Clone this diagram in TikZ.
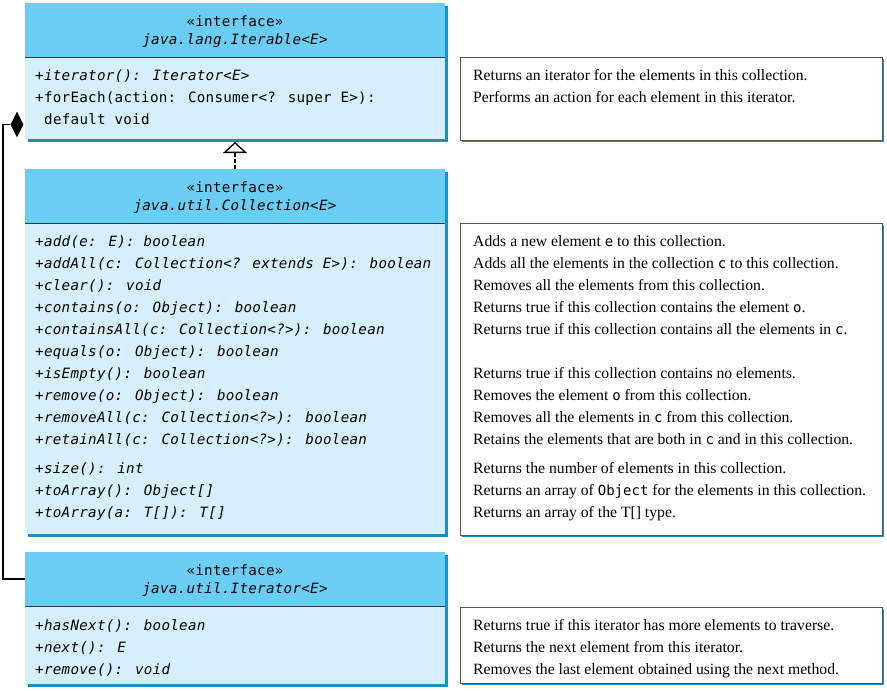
\documentclass[tikz,border=0pt]{standalone}
\usepackage{fontspec}
\setmainfont{Liberation Serif}
\newfontfamily\codefont{DejaVu Sans Mono}[LetterSpace=2.0]
\newfontfamily\inlinecodefont{DejaVu Sans Mono}
\usetikzlibrary{arrows.meta,shapes.geometric}
\definecolor{headblue}{HTML}{6ACDF3}
\definecolor{bodyblue}{HTML}{D5EFFB}
\definecolor{shadowblue}{HTML}{1B8FBF}
\definecolor{divider}{HTML}{2A3A40}
\definecolor{descborder}{HTML}{555555}
\newcommand\incode[1]{{\inlinecodefont\fontsize{14}{16}\selectfont #1}}
\begin{document}
\begin{tikzpicture}[x=1pt,y=-1pt,
  head/.style={fill=headblue, anchor=north west, minimum width=420pt, minimum height=54pt, inner sep=0pt, outer sep=0pt},
  body/.style={fill=bodyblue, anchor=north west, minimum width=420pt, inner sep=0pt, outer sep=0pt},
  desc/.style={draw=descborder, line width=0.8pt, fill=white, anchor=north west, minimum width=422pt, inner sep=0pt},
  shadowfill/.style={fill=shadowblue},
  divline/.style={draw=divider, line width=1pt},
  code/.style={font=\codefont\fontsize{14.2}{16}\selectfont\itshape, anchor=base west, inner sep=0pt},
  codeup/.style={font=\codefont\fontsize{14.2}{16}\selectfont, anchor=base west, inner sep=0pt},
  stereo/.style={font=\codefont\fontsize{14.2}{16}\selectfont, anchor=base, inner sep=0pt},
  cname/.style={font=\codefont\fontsize{14.2}{16}\selectfont\itshape, anchor=base, inner sep=0pt},
  dtext/.style={font=\fontsize{15.7}{18}\selectfont, anchor=base west, inner sep=0pt},
  conn/.style={draw=black, line width=1.1pt},
  realize/.style={draw=black, line width=1.3pt, dash pattern=on 4pt off 2pt, -{Triangle[open,fill=white,length=11pt,width=24pt,line width=1.3pt]}},
  ]
\useasboundingbox (0,0) rectangle (887,691);

% shadows
\fill[shadowfill] (28,6) rectangle (448,142);
\fill[shadowfill] (28,172) rectangle (448,537);
\fill[shadowfill] (28,555) rectangle (448,687);
\fill[shadowfill] (462,59) rectangle (884,142);
\fill[shadowfill] (462,225) rectangle (884,537);
\fill[shadowfill] (462,609) rectangle (884,685);

% Iterable
\node[head] (itbH) at (25,3) {};
\node[body, minimum height=82pt] (itbB) at (25,57) {};
\draw[divline] (itbH.south west) -- (itbH.south east);
\node[stereo] (itbS) at (235,26) {«interface»};
\node[cname] (itbN) at (235,44) {java.lang.Iterable<E>};
\node[code] (itbM1) at (35,80) {+iterator(): Iterator<E>};
\node[codeup] (itbM2) at (35,102) {+forEach(action: Consumer<? super E>):};
\node[codeup] (itbM3) at (44,124) {default void};
\node[desc, minimum height=83pt] (itbD) at (460,57) {};
\node[dtext] (itbD1) at (473,80) {Returns an iterator for the elements in this collection.};
\node[dtext] (itbD2) at (473,102) {Performs an action for each element in this iterator.};

% Collection
\node[head] (colH) at (25,169) {};
\node[body, minimum height=311pt] (colB) at (25,223) {};
\draw[divline] (colH.south west) -- (colH.south east);
\node[stereo] (colS) at (235,192) {«interface»};
\node[cname] (colN) at (235,210) {java.util.Collection<E>};
\foreach \yy/\txt [count=\i] in {
  246/{+add(e: E): boolean},
  268/{+addAll(c: Collection<? extends E>): boolean},
  290/{+clear(): void},
  312/{+contains(o: Object): boolean},
  334/{+containsAll(c: Collection<?>): boolean},
  356/{+equals(o: Object): boolean},
  378/{+isEmpty(): boolean},
  400/{+remove(o: Object): boolean},
  422/{+removeAll(c: Collection<?>): boolean},
  444/{+retainAll(c: Collection<?>): boolean},
  473/{+size(): int},
  495/{+toArray(): Object[]},
  517/{+toArray(a: T[]): T[]}}
  \node[code] (colM\i) at (35,\yy) {\txt};
\node[desc, minimum height=312pt] (colD) at (460,223) {};
\foreach \yy/\txt [count=\i] in {
  246/{Adds a new element \incode{e} to this collection.},
  268/{Adds all the elements in the collection \incode{c} to this collection.},
  290/{Removes all the elements from this collection.},
  312/{Returns true if this collection contains the element \incode{o}.},
  334/{Returns true if this collection contains all the elements in \incode{c}.},
  378/{Returns true if this collection contains no elements.},
  400/{Removes the element \incode{o} from this collection.},
  422/{Removes all the elements in \incode{c} from this collection.},
  444/{Retains the elements that are both in \incode{c} and in this collection.},
  473/{Returns the number of elements in this collection.},
  495/{Returns an array of \incode{Object} for the elements in this collection.},
  517/{Returns an array of the T[] type.}}
  \node[dtext] (colT\i) at (473,\yy) {\txt};

% Iterator
\node[head] (iteH) at (25,552) {};
\node[body, minimum height=78pt] (iteB) at (25,606) {};
\draw[divline] (iteH.south west) -- (iteH.south east);
\node[stereo] (iteS) at (235,575) {«interface»};
\node[cname] (iteN) at (235,593) {java.util.Iterator<E>};
\node[code] (iteM1) at (35,630) {+hasNext(): boolean};
\node[code] (iteM2) at (35,652) {+next(): E};
\node[code] (iteM3) at (35,674) {+remove(): void};
\node[desc, minimum height=76pt] (iteD) at (460,607) {};
\node[dtext] (iteD1) at (473,630) {Returns true if this iterator has more elements to traverse.};
\node[dtext] (iteD2) at (473,652) {Returns the next element from this iterator.};
\node[dtext] (iteD3) at (473,674) {Removes the last element obtained using the next method.};

% connectors
\draw[realize] (colH.north) -- ([yshift=-3pt]itbB.south);
\node[diamond, fill=black, minimum width=13pt, minimum height=26pt, inner sep=0pt] (dia) at (17,124.5) {};
\coordinate (bend) at (3,579);
\draw[conn] (iteH.west) -- (bend) |- (dia.west);
\end{tikzpicture}
\end{document}
